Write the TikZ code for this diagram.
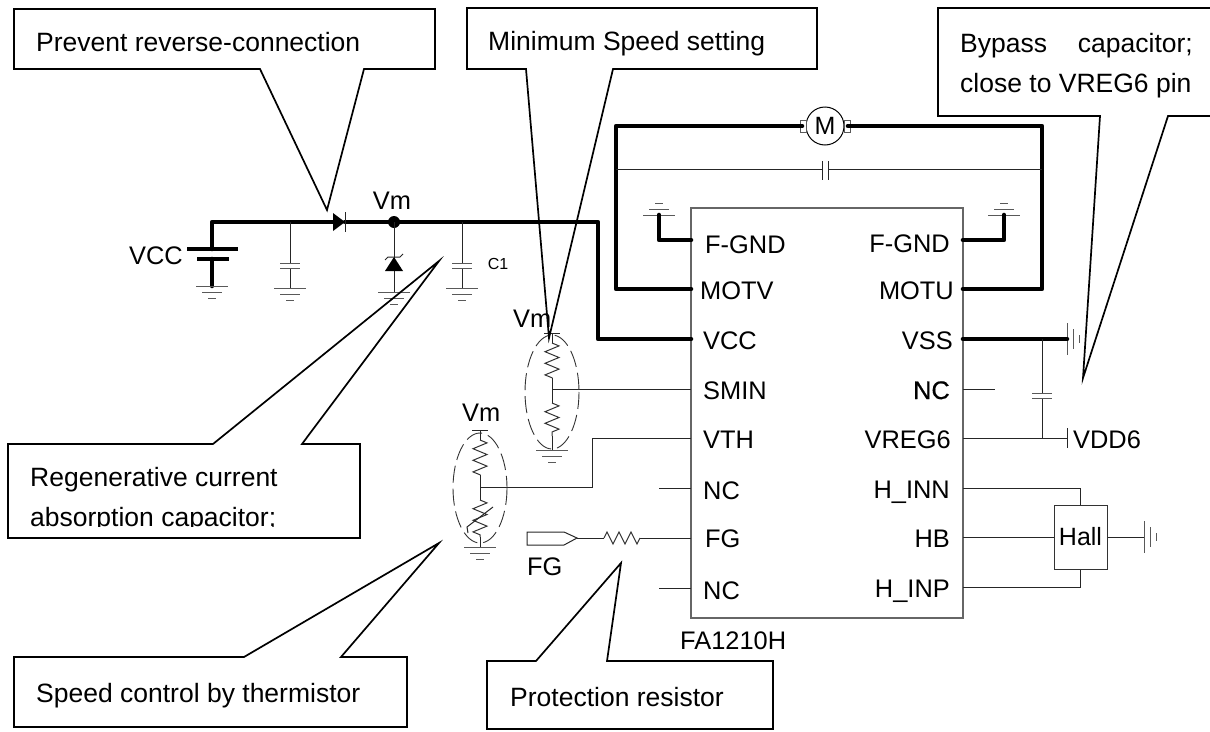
\documentclass[tikz,border=0pt]{standalone}
\usepackage{fontspec}
\setmainfont{Liberation Sans}
\newfontface\heavyface[FakeBold=0.6]{Liberation Sans}
\usetikzlibrary{decorations.pathmorphing}
\tikzset{
	wire/.style={line width=1pt, black!85},
	thickwire/.style={line width=4.6pt, line cap=round, line join=round},
	gndline/.style={line width=1pt, black!65},
	callout/.style={line width=1.7pt, line join=miter},
	label/.style={inner sep=0pt, text height=18pt, text depth=0pt, font=\fontsize{25.4}{28}\selectfont},
	calltext/.style={label, anchor=west, font=\fontsize{26.5}{28}\selectfont},
	res/.style={line width=1pt, black!80, decorate, decoration={zigzag, amplitude=7, segment length=11.6}}
}
\begin{document}
\begin{tikzpicture}[x=1pt, y=-1pt]
	\useasboundingbox (0, 0) rectangle (1210, 731);
	\node[draw=black!60, line width=1.1pt, minimum width=272, minimum height=410, inner sep=0pt] (chip) at (827, 413) {};
	\foreach \name/\txt/\x/\y in {lfgnd/F-GND/705/244, motv/MOTV/700/290, lvcc/VCC/703/340, smin/SMIN/703/390, vth/VTH/703/439, lnca/NC/703/490, lfg/FG/705/538, lncb/NC/703/590}
		\node[label, anchor=west] (\name) at (\x, \y) {\txt};
	\foreach \name/\txt/\x/\y in {rfgnd/F-GND/950/243, motu/MOTU/954/290, vss/VSS/953/340, vreg/VREG6/951/439, hinn/H\_INN/950/489, hb/HB/950/538, hinp/H\_INP/950/588}
		\node[label, anchor=east] (\name) at (\x, \y) {\txt};
	\node[label, anchor=east, font=\fontsize{25.4}{28}\heavyface] (rnc) at (950, 390) {NC};
	\node[label, anchor=west] (chipname) at (680, 640) {FA1210H};

	\coordinate (corner) at (212, 222);
	\coordinate (batpos) at (212, 249);
	\coordinate (batneg) at (212, 259);
	\coordinate (batgnd) at (212, 286);
	\coordinate (diodea) at (333, 222);
	\coordinate (diodek) at (345, 222);
	\coordinate (vmdot) at (394, 222);
	\coordinate (turn) at (598, 222);
	\coordinate (turnb) at (598, 339);
	\coordinate (pinvcc) at (691, 339);
	\draw[thickwire] (batgnd) -- (batneg) (batpos) -- (corner) -- (diodea) (diodek) -- (vmdot) -- (turn) -- (turnb) -- (pinvcc);
	\draw[line width=3.4pt] (187, 249) -- (238, 249);
	\draw[line width=3.4pt] (197, 259) -- (229, 259);
	\node[label, anchor=east] (vcclabel) at (183, 255) {VCC};
	\fill (333, 213) -- (345, 222) -- (333, 231) -- cycle;
	\draw[wire] (345, 212) -- (345, 232);
	\fill (vmdot) circle (6);
	\node[label] (vmtop) at (392, 200) {Vm};

	\foreach \x in {290, 462}
	{
		\draw[wire] (\x, 222) -- (\x, 263) (\x, 268) -- (\x, 288);
		\draw[gndline] (\x-10, 263) -- (\x+10, 263) (\x-10, 268) -- (\x+10, 268);
	}
	\node[inner sep=0pt, font=\fontsize{16}{18}\selectfont] (cone) at (498, 264) {C1};

	\coordinate (zener) at (394, 292);
	\draw[wire] (vmdot) -- (zener);
	\fill (394, 257) -- (403, 271) -- (385, 271) -- cycle;
	\draw[wire] (385, 260) -- (388, 257) -- (400, 257) -- (403, 254);

	\foreach \x/\y in {212/286, 290/288, 394/292, 462/288, 552/450, 480/547}
	{
		\draw[gndline] (\x-16, \y) -- (\x+16, \y);
		\draw[gndline] (\x-10, \y+6) -- (\x+10, \y+6);
		\draw[gndline] (\x-4, \y+12) -- (\x+4, \y+12);
	}
	\foreach \x in {659, 1004}
	{
		\draw[gndline] (\x-16, 215) -- (\x+16, 215);
		\draw[gndline] (\x-10, 209) -- (\x+10, 209);
		\draw[gndline] (\x-4, 203) -- (\x+4, 203);
	}
	\foreach \x/\y in {1067/339, 1144/537}
	{
		\draw[gndline] (\x, \y-16) -- (\x, \y+16);
		\draw[gndline] (\x+6, \y-10) -- (\x+6, \y+10);
		\draw[gndline] (\x+12, \y-4) -- (\x+12, \y+4);
	}

	\node[draw, circle, line width=1pt, minimum size=38, inner sep=0pt, font=\fontsize{25}{28}\selectfont] (motor) at (825, 126) {M};
	\draw[gndline, fill=white] (800, 120) rectangle (806, 132);
	\draw[gndline, fill=white] (844, 120) rectangle (850, 132);
	\coordinate (lefttop) at (616, 126);
	\coordinate (leftbot) at (616, 289);
	\coordinate (righttop) at (1042, 126);
	\coordinate (rightbot) at (1042, 289);
	\draw[thickwire] (691, 289) -- (leftbot) -- (lefttop) -- (802, 126);
	\draw[thickwire] (848, 126) -- (righttop) -- (rightbot) -- (963, 289);
	\draw[wire] (lefttop |- 0, 169) -- (822, 169) (828, 169) -- (righttop |- 0, 169);
	\draw[wire] (822, 161) -- (822, 180) (828, 161) -- (828, 180);

	\draw[thickwire] (691, 240) -- (659, 240) -- (659, 215);
	\draw[thickwire] (963, 240) -- (1004, 240) -- (1004, 215);

	\coordinate (vsspin) at (963, 339);
	\coordinate (vssgnd) at (1067, 339);
	\draw[thickwire] (vsspin) -- (vssgnd);
	\draw[wire] (1042, 339) -- (1042, 393) (1042, 398) -- (1042, 438);
	\draw[gndline] (1032, 393) -- (1052, 393) (1032, 398) -- (1052, 398);
	\draw[wire] (963, 389) -- (995, 389);
	\draw[wire] (963, 438) -- (1067, 438);
	\draw[wire] (1067, 428) -- (1067, 448);
	\node[label, anchor=west] (vdd) at (1073, 439) {VDD6};

	\node[draw=black!80, line width=1pt, minimum width=53, minimum height=64, inner sep=0pt, font=\fontsize{25}{28}\selectfont] (hall) at (1080.5, 537) {Hall};
	\draw[wire] (963, 488) -- (hall.north |- 0, 488) -- (hall.north);
	\draw[wire] (963, 587) -- (hall.south |- 0, 587) -- (hall.south);
	\draw[wire] (963, 537) -- (hall.west);
	\draw[wire] (hall.east) -- (1144, 537);

	\node[label, anchor=west] (vmupper) at (513, 318) {Vm};
	\draw[wire] (544, 333) -- (560, 333);
	\draw[wire] (552, 333) -- (552, 343) (552, 378) -- (552, 403) (552, 436) -- (552, 450);
	\draw[res] (552, 343) -- (552, 378);
	\draw[res] (552, 403) -- (552, 436);
	\draw[wire] (552, 389) -- (691, 389);
	\draw[black!80, line width=0.9pt, dash pattern=on 17pt off 6pt] (552, 392) ellipse (27 and 57);

	\node[label, anchor=west] (vmlower) at (462, 412) {Vm};
	\draw[wire] (472, 430) -- (488, 430);
	\draw[wire] (480, 430) -- (480, 440) (480, 475) -- (480, 500) (480, 537) -- (480, 547);
	\draw[res] (480, 440) -- (480, 475);
	\draw[res] (480, 500) -- (480, 537);
	\draw[wire] (468, 533) -- (467, 527) -- (493, 507);
	\draw[wire] (480, 487) -- (592, 487) -- (592, 438) -- (691, 438);
	\draw[black!80, line width=0.9pt, dash pattern=on 17pt off 6pt] (480, 488) ellipse (27 and 55);

	\draw[wire] (659, 488) -- (691, 488);
	\draw[wire] (659, 588) -- (691, 588);
	\draw[wire] (691, 538) -- (640, 538) (604, 538) -- (577, 538);
	\draw[res, decoration={amplitude=6, segment length=12}] (640, 538) -- (604, 538);
	\draw[wire] (577, 538) -- (564, 532) -- (527, 532) -- (527, 545) -- (564, 545) -- cycle;
	\node[label, anchor=west] (fglabel) at (527, 566) {FG};

	\draw[callout] (260, 69) -- (14, 69) -- (14, 9) -- (435, 9) -- (435, 69) -- (364, 69) -- (327, 210) -- cycle;
	\node[calltext] (reverse) at (36, 42) {Prevent reverse-connection};
	\draw[callout] (526, 69) -- (467, 69) -- (467, 8) -- (817, 8) -- (817, 69) -- (613, 69) -- (549, 338) -- cycle;
	\node[calltext] (minspeed) at (488, 41) {Minimum Speed setting};
	\draw[callout] (1212, 116) -- (1168, 116) -- (1083, 378) -- (1100, 116) -- (938, 116) -- (938, 8) -- (1212, 8);
	\node[calltext] (bypass) at (960, 43) {Bypass};
	\node[calltext, anchor=east] (capword) at (1193, 43) {capacitor;};
	\node[calltext] (closeto) at (960, 83) {close to VREG6 pin};
	\draw[callout] (213, 444) -- (8, 444) -- (8, 538) -- (360, 538) -- (360, 444) -- (302, 444) -- (439, 261) -- cycle;
	\node[calltext] (regen) at (30, 477) {Regenerative current};
	\begin{scope}
		\clip (12, 500) rectangle (355, 526);
		\node[calltext] (absorb) at (30, 517) {absorption capacitor;};
	\end{scope}
	\draw[callout] (244, 657) -- (14, 657) -- (14, 727) -- (407, 727) -- (407, 657) -- (341, 657) -- (439, 543) -- cycle;
	\node[calltext] (thermistor) at (36, 693) {Speed control by thermistor};
	\draw[callout] (536, 661) -- (487, 661) -- (487, 729) -- (773, 729) -- (773, 661) -- (607, 661) -- (621, 563) -- cycle;
	\node[calltext] (protection) at (510, 697) {Protection resistor};
\end{tikzpicture}
\end{document}
